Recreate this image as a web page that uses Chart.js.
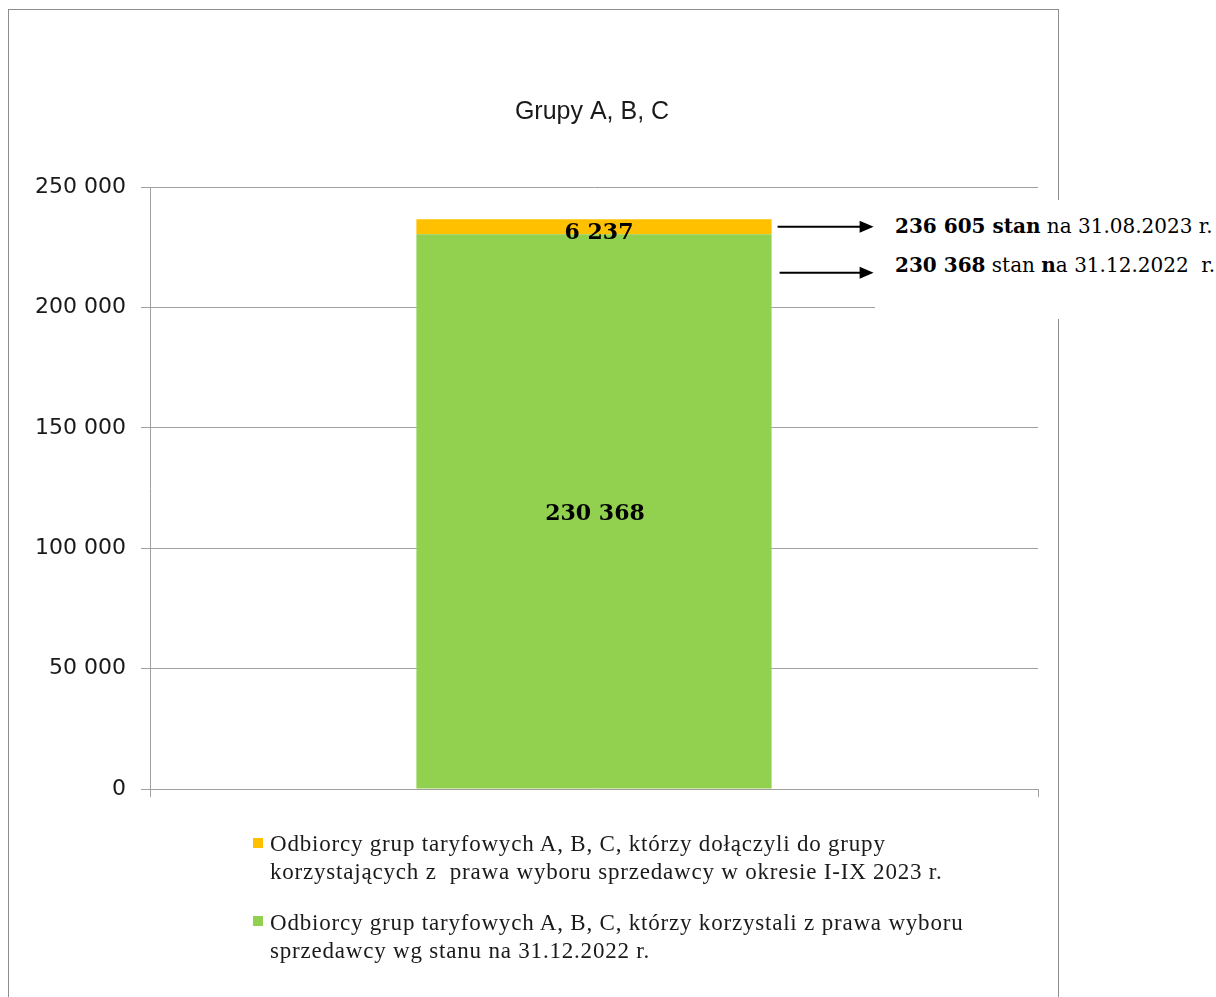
<!DOCTYPE html>
<html>
<head>
<meta charset="utf-8">
<script src="https://cdn.jsdelivr.net/npm/chart.js@4.4.0/dist/chart.umd.min.js"></script>
<style>
html,body{margin:0;padding:0;background:#fff;width:1216px;height:997px;overflow:hidden;}
#frame{position:absolute;left:8px;top:9px;width:1051px;height:1100px;border:1px solid #8c8c8c;box-sizing:border-box;}
#wrap{position:absolute;left:0;top:0;width:1216px;height:997px;}
#note{position:absolute;left:875px;top:200px;width:341px;height:119px;background:#fff;font-family:"DejaVu Serif",serif;font-size:20px;color:#000;}
#note div{position:absolute;left:20px;line-height:24px;white-space:pre;}
.leg{position:absolute;left:270px;font-family:"Liberation Serif",serif;font-size:23px;letter-spacing:0.8px;line-height:28px;color:#1a1a1a;white-space:pre;}
.mk{position:absolute;left:253px;width:10px;height:10px;}
</style>
</head>
<body>
<div id="frame"></div>
<div id="wrap"><canvas id="c" width="1216" height="997"></canvas></div>
<div id="note">
  <div style="top:14px"><b>236 605 stan</b> na 31.08.2023 r.</div>
  <div style="top:53px"><b>230 368</b> stan <b>n</b>a 31.12.2022  r.</div>
</div>
<div class="mk" style="top:838px;background:#FFC000"></div>
<div class="leg" style="top:830px">Odbiorcy grup taryfowych A, B, C, którzy dołączyli do grupy
korzystających z  prawa wyboru sprzedawcy w okresie I-IX 2023 r.</div>
<div class="mk" style="top:916px;background:#92D050"></div>
<div class="leg" style="top:909px">Odbiorcy grup taryfowych A, B, C, którzy korzystali z prawa wyboru
sprzedawcy wg stanu na 31.12.2022 r.</div>
<script>
const categories = ['Grupy A, B, C'];
const seriesNames = [
  'Odbiorcy grup taryfowych A, B, C, którzy korzystali z prawa wyboru sprzedawcy wg stanu na 31.12.2022 r.',
  'Odbiorcy grup taryfowych A, B, C, którzy dołączyli do grupy korzystających z prawa wyboru sprzedawcy w okresie I-IX 2023 r.'
];
const base2022 = [230368];
const joined2023 = [6237];
const yMin = 0, yMax = 250000, yStep = 50000;
const chartTitle = 'Grupy A, B, C';

function fmt(v){ return String(v).replace(/\B(?=(\d{3})+(?!\d))/g, ' '); }

const centerTitle = {
  id: 'centerTitle',
  afterLayout(chart){
    const t = chart.titleBlock;
    if (t) { t.left = chart.chartArea.left - 4; t.right = chart.chartArea.right; }
  }
};

const valueLabels = {
  id: 'valueLabels',
  afterDatasetsDraw(chart){
    const ctx = chart.ctx;
    ctx.save();
    ctx.font = 'bold 22px "DejaVu Serif"';
    ctx.fillStyle = '#000';
    ctx.textAlign = 'center';
    ctx.textBaseline = 'middle';
    chart.data.datasets.forEach((ds, i) => {
      const meta = chart.getDatasetMeta(i);
      meta.data.forEach((bar, j) => {
        const p = bar.getProps(['x','y','base'], true);
        const dx = i === 1 ? 5 : 1;
        const dy = i === 1 ? 7 : 3;
        ctx.fillText(fmt(ds.data[j]), p.x + dx, (p.y + p.base) / 2 + dy);
      });
    });
    ctx.restore();
  }
};

const arrows = {
  id: 'arrows',
  afterDraw(chart){
    const meta = chart.getDatasetMeta(1);
    const bar = meta.data[0];
    const p = bar.getProps(['x','y','base','width'], true);
    const right = p.x + p.width / 2;
    const y1 = (p.y + p.base) / 2;
    const y2 = y1 + 46;
    const ctx = chart.ctx;
    function arrow(x0, x1, y){
      ctx.beginPath();
      ctx.moveTo(x0, y); ctx.lineTo(x1 - 12, y);
      ctx.lineWidth = 2; ctx.strokeStyle = '#000'; ctx.stroke();
      ctx.beginPath();
      ctx.moveTo(x1, y); ctx.lineTo(x1 - 14, y - 6); ctx.lineTo(x1 - 14, y + 6); ctx.closePath();
      ctx.fillStyle = '#000'; ctx.fill();
    }
    ctx.save();
    arrow(right + 6, right + 102, y1);
    arrow(right + 8, right + 102, y2);
    ctx.restore();
  }
};

new Chart(document.getElementById('c'), {
  type: 'bar',
  data: {
    labels: categories,
    datasets: [
      { label: seriesNames[0], data: base2022, backgroundColor: '#92D050', borderWidth: 0, categoryPercentage: 1, barPercentage: 0.4 },
      { label: seriesNames[1], data: joined2023, backgroundColor: '#FFC000', borderWidth: 0, categoryPercentage: 1, barPercentage: 0.4 }
    ]
  },
  options: {
    responsive: false,
    animation: false,
    layout: { padding: { left: 0, right: 178, top: 0, bottom: 200 } },
    plugins: {
      legend: { display: false },
      tooltip: { enabled: false },
      title: {
        display: true,
        text: chartTitle,
        color: '#1a1a1a',
        font: { family: 'Liberation Sans', size: 25, weight: 'normal' },
        padding: { top: 97, bottom: 60 }
      }
    },
    scales: {
      x: {
        stacked: true,
        offset: true,
        grid: { display: true, offset: true, drawOnChartArea: false, drawTicks: true, tickLength: 8, color: '#a0a0a0' },
        border: { display: true, color: '#a0a0a0', width: 1 },
        ticks: { display: false }
      },
      y: {
        stacked: true,
        min: yMin, max: yMax,
        afterFit(s){ s.width = 150; },
        grid: { color: '#a0a0a0', tickLength: 9 },
        border: { display: true, color: '#a0a0a0', width: 1 },
        ticks: {
          stepSize: yStep,
          padding: 15,
          color: '#1a1a1a',
          font: { family: 'DejaVu Sans', size: 22 },
          callback: v => fmt(v)
        }
      }
    }
  },
  plugins: [centerTitle, valueLabels, arrows]
});
</script>
</body>
</html>
